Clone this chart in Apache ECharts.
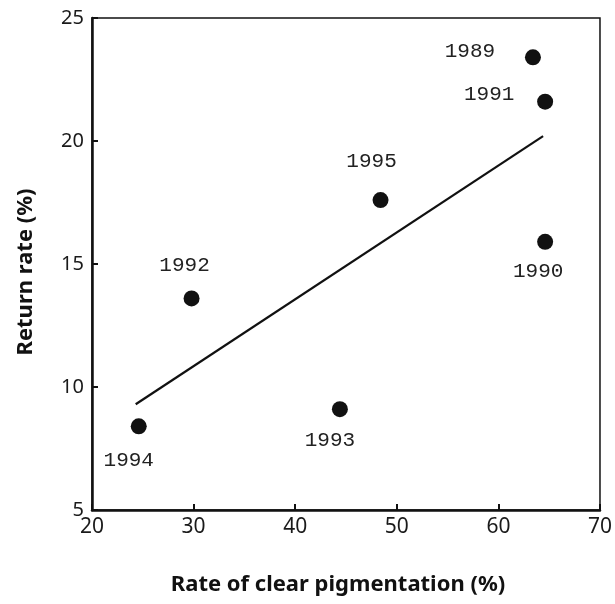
<!DOCTYPE html>
<html><head><meta charset="utf-8">
<script src="https://cdn.jsdelivr.net/npm/echarts@6/dist/echarts.min.js"></script>
<style>html,body{margin:0;padding:0;background:#fff}#c{width:615px;height:604px}</style>
</head><body><div id="c"></div>
<script>
const years = ['1989','1990','1991','1992','1993','1994','1995'];
const pigmentation = [63.4, 64.6, 64.6, 29.8, 44.4, 24.6, 48.4];
const returnRate = [23.4, 15.9, 21.6, 13.6, 9.1, 8.4, 17.6];
const trendX = [24.3, 64.4];
const trendY = [9.3, 20.2];
const xTicks = [20, 30, 40, 50, 60, 70];
const yTicks = [5, 10, 15, 20, 25];
const labelOffsets = {'1989':[-63,-6],'1990':[-7,30],'1991':[-56,-7],'1992':[-7,-33],'1993':[-10,31],'1994':[-10,34],'1995':[-9,-39]};

const chart = echarts.init(document.getElementById('c'), null, {renderer:'canvas'});
const pts = years.map((y,i)=>({
  value:[pigmentation[i], returnRate[i]],
  name:y,
  label:{show:true, formatter:y, position:'inside', offset:labelOffsets[y]}
}));
chart.setOption({
  animation:false,
  grid:{left:92,right:3,top:18,bottom:94,show:true,borderColor:'#111',borderWidth:1.5},
  xAxis:{type:'value',min:xTicks[0],max:xTicks[xTicks.length-1],interval:10,
    axisLine:{show:true,onZero:false,lineStyle:{color:'#111',width:2.5}},
    axisTick:{show:true,inside:true,length:6,lineStyle:{color:'#111',width:2}},
    axisLabel:{color:'#1a1a1a',fontSize:21,fontFamily:'Noto Sans',margin:7},
    splitLine:{show:false}},
  yAxis:{type:'value',min:yTicks[0],max:yTicks[yTicks.length-1],interval:5,
    axisLine:{show:true,onZero:false,lineStyle:{color:'#111',width:2.5}},
    axisTick:{show:true,inside:true,length:6,lineStyle:{color:'#111',width:2}},
    axisLabel:{color:'#1a1a1a',fontSize:20,fontFamily:'Noto Sans',margin:8},
    splitLine:{show:false}},
  graphic:[
    {type:'text',style:{text:'Rate of clear pigmentation (%)',font:'bold 22px "Noto Sans"',fill:'#111',align:'center',verticalAlign:'middle'},x:338,y:585},
    {type:'text',style:{text:'Return rate (%)',font:'bold 22px "Noto Sans"',fill:'#111',align:'center',verticalAlign:'middle'},x:26,y:272,rotation:Math.PI/2}
  ],
  series:[
    {type:'line',data:trendX.map((x,i)=>[x,trendY[i]]),symbol:'none',lineStyle:{color:'#111',width:2.2},z:1},
    {type:'scatter',data:pts,symbolSize:16,itemStyle:{color:'#111',opacity:1},
      label:{color:'#222',fontSize:21,fontFamily:'Liberation Mono'},z:3}
  ]
});
</script></body></html>
